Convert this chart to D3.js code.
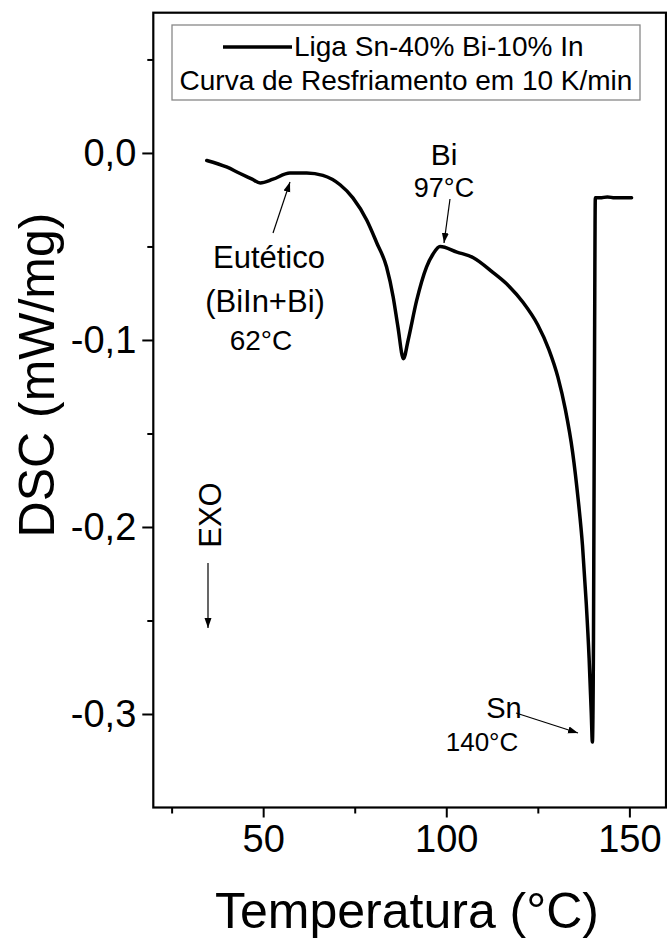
<!DOCTYPE html>
<html><head><meta charset="utf-8">
<script src="https://cdn.jsdelivr.net/npm/d3@7"></script>
<style>
html,body{margin:0;padding:0;background:#fff;}
svg text{font-family:"Liberation Sans",Arial,sans-serif;fill:#000;}
</style></head>
<body><svg id="c" width="667" height="938"></svg>
<script>
// Data
const temps = [34.6, 40.0, 43.7, 47.0, 49.2, 52.7, 57.3, 61.9, 66.3, 71.0, 74.5, 78.3, 81.0, 83.7, 85.5, 86.8, 88.3, 89.6, 91.9, 94.6, 96.4, 98.3, 102.9, 107.4, 112.8, 117.0, 121.0, 125.0, 128.0, 130.5, 132.5, 134.5, 136.0, 137.2, 138.2, 139.0, 139.6, 139.9, 140.2, 140.5, 140.7, 142.0, 144.0, 146.0, 148.0, 150.6];
const dsc   = [-0.004, -0.0075, -0.011, -0.014, -0.016, -0.014, -0.0107, -0.0107, -0.012, -0.017, -0.024, -0.036, -0.048, -0.061, -0.077, -0.093, -0.110, -0.100, -0.079, -0.061, -0.054, -0.050, -0.053, -0.056, -0.064, -0.071, -0.080, -0.092, -0.105, -0.120, -0.137, -0.160, -0.185, -0.210, -0.240, -0.270, -0.300, -0.315, -0.260, -0.100, -0.024, -0.024, -0.0235, -0.024, -0.024, -0.024];
const xTicks = [50, 100, 150];
const xMinor = [25, 75, 125];
const yTicks = [0, -0.1, -0.2, -0.3];
const yMinor = [0.05, -0.05, -0.15, -0.25];
const yTickLabels = ["0,0", "-0,1", "-0,2", "-0,3"];
const legendLabel1 = "Liga Sn-40% Bi-10% In";
const legendLabel2 = "Curva de Resfriamento em 10 K/min";

const svg = d3.select("#c");
const L = 153.3, R = 666, T = 12.7, B = 807.5;
const x = d3.scaleLinear().domain([20, 160]).range([L, R]);
const y = d3.scaleLinear().domain([-0.35, 0.075]).range([B, T]);

// arrow marker
const defs = svg.append("defs");
defs.append("marker").attr("id","ah").attr("viewBox","0 0 10 10").attr("refX",10).attr("refY",5)
  .attr("markerWidth",10).attr("markerHeight",10).attr("markerUnits","userSpaceOnUse").attr("orient","auto")
  .append("path").attr("d","M0,1.5 L10,5 L0,8.5 Z").attr("fill","#000");

// axes
const xAxis = d3.axisBottom(x).tickValues(xTicks).tickSize(10).tickFormat(d3.format("d")).tickPadding(8);
const gx = svg.append("g").attr("transform",`translate(0,${B})`).call(xAxis);
gx.select(".domain").remove();
gx.selectAll("line").attr("stroke","#000").attr("stroke-width",2);
gx.selectAll("text").attr("font-size",38).attr("font-family","Liberation Sans, Arial, sans-serif");
const gxm = svg.append("g").attr("transform",`translate(0,${B})`).call(d3.axisBottom(x).tickValues(xMinor).tickSize(6).tickFormat(""));
gxm.select(".domain").remove();
gxm.selectAll("line").attr("stroke","#000").attr("stroke-width",2);

const yAxis = d3.axisLeft(y).tickValues(yTicks).tickSize(11).tickFormat((d,i)=>yTickLabels[i]).tickPadding(6);
const gy = svg.append("g").attr("transform",`translate(${L},0)`).call(yAxis);
gy.select(".domain").remove();
gy.selectAll("line").attr("stroke","#000").attr("stroke-width",2);
gy.selectAll("text").attr("font-size",38).attr("font-family","Liberation Sans, Arial, sans-serif");
const gym = svg.append("g").attr("transform",`translate(${L},0)`).call(d3.axisLeft(y).tickValues(yMinor).tickSize(6).tickFormat(""));
gym.select(".domain").remove();
gym.selectAll("line").attr("stroke","#000").attr("stroke-width",2);

// frame
svg.append("rect").attr("x",L).attr("y",T).attr("width",R-L).attr("height",B-T)
  .attr("fill","none").attr("stroke","#000").attr("stroke-width",2.2);

// curve
const pts = temps.map((t,i)=>[t,dsc[i]]);
svg.append("path").datum(pts)
  .attr("d", d3.line().x(d=>x(d[0])).y(d=>y(d[1])).curve(d3.curveMonotoneX))
  .attr("fill","none").attr("stroke","#000").attr("stroke-width",3.5).attr("stroke-linejoin","round").attr("stroke-linecap","round");

// axis titles
svg.append("text").attr("x",407).attr("y",928).attr("text-anchor","middle").attr("font-size",50).text("Temperatura (°C)");
svg.append("text").attr("transform",`translate(54,375) rotate(-90)`).attr("text-anchor","middle").attr("font-size",50).text("DSC (mW/mg)");

// legend
svg.append("rect").attr("x",172).attr("y",25).attr("width",468).attr("height",75)
  .attr("fill","#fff").attr("stroke","#888").attr("stroke-width",1.3);
svg.append("line").attr("x1",223).attr("x2",292).attr("y1",47).attr("y2",47).attr("stroke","#000").attr("stroke-width",3.5);
svg.append("text").attr("x",294).attr("y",56).attr("font-size",28).text(legendLabel1);
svg.append("text").attr("x",406).attr("y",90).attr("text-anchor","middle").attr("font-size",28).text(legendLabel2);

// annotations
function txt(xp, yp, s, fs){ svg.append("text").attr("x",xp).attr("y",yp).attr("text-anchor","middle").attr("font-size",fs).text(s); }
function arrow(x1,y1,x2,y2){ svg.append("line").attr("x1",x1).attr("y1",y1).attr("x2",x2).attr("y2",y2).attr("stroke","#000").attr("stroke-width",1.2).attr("marker-end","url(#ah)"); }
txt(269, 268, "Eutético", 31);
txt(265, 312, "(BiIn+Bi)", 31);
txt(261, 350, "62°C", 28);
arrow(273, 233, 290, 182);
txt(444, 165, "Bi", 30);
txt(444, 197, "97°C", 27);
arrow(450, 199, 444, 243);
txt(504, 718, "Sn", 29);
txt(482, 751, "140°C", 26);
arrow(516, 713, 578, 733);
svg.append("text").attr("transform","translate(221,515) rotate(-90)").attr("text-anchor","middle").attr("font-size",31).text("EXO");
arrow(208, 563, 208, 628);
</script>
</body></html>
